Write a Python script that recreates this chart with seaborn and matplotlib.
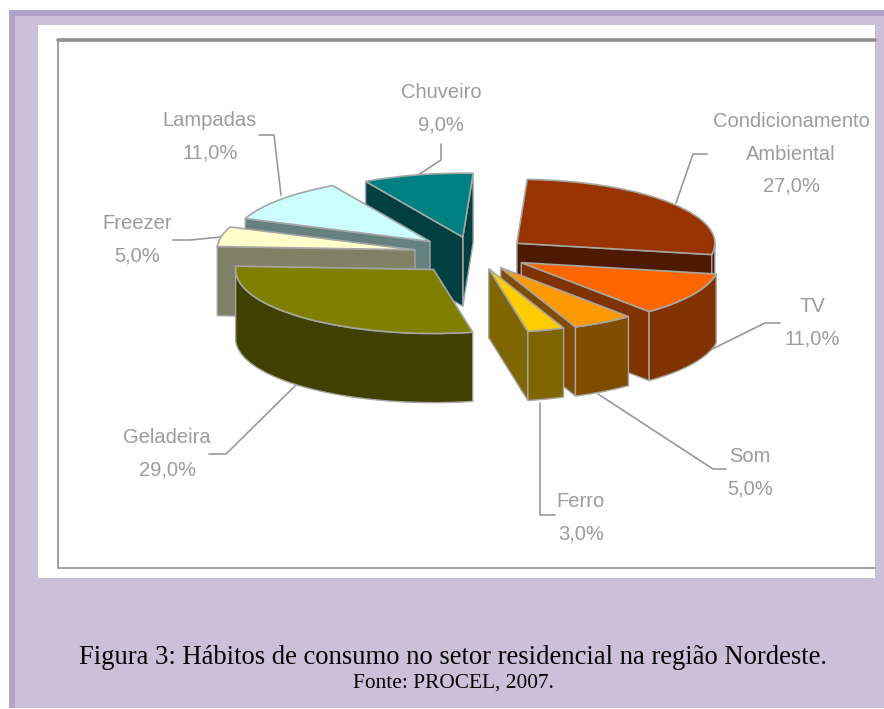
import numpy as np
import matplotlib
matplotlib.use("Agg")
import matplotlib.pyplot as plt
from matplotlib.patches import Rectangle, Polygon
import seaborn as sns

# dados do grafico
categorias = ["Condicionamento\nAmbiental", "TV", "Som", "Ferro", "Geladeira", "Freezer", "Lampadas", "Chuveiro"]
valores = [27.0, 11.0, 5.0, 3.0, 29.0, 5.0, 11.0, 9.0]
cores_topo = ["#993300", "#ff6600", "#ff9900", "#ffcc00", "#808000", "#ffffcc", "#ccffff", "#008080"]
cores_lado = ["#4d1a00", "#803300", "#804d00", "#806600", "#404000", "#808066", "#668080", "#004040"]
afastamento = [0.27, 0.27, 0.25, 0.24, 0.32, 0.31, 0.30, 0.27]
# ordem de desenho (de tras para frente)
ordem = [7, 6, 5, 4, 0, 1, 2, 3]

# posicao dos rotulos e linhas guia, em pixels da imagem
pos_rotulos = [(791, 154), (812, 323), (750, 473), (581, 518), (167, 454), (137, 240), (210, 137), (441, 109)]
guias = [
    [(676, 203), (693, 154), (707, 154)],
    [(690, 360), (765, 323), (780, 323)],
    [(598, 394), (713, 469), (726, 469)],
    [(540, 403), (540, 515), (555, 515)],
    [(298, 383), (226, 454), (209, 454)],
    [(221, 237), (190, 240), (173, 240)],
    [(281, 195), (274, 135), (259, 135)],
    [(415, 177), (441, 160), (441, 144)],
]

LARGURA, ALTURA = 884, 709
CENTRO_X, CENTRO_Y = 475, 254
RAIO_X, RAIO_Y = 198, 64
PROFUNDIDADE = 1.08
LILAS = "#cbbfd9"
LILAS_ESCURO = "#b3a2c8"
CINZA = "#a6a6a6"

sns.set_theme(style="white")
plt.rcParams["font.family"] = ["Liberation Sans", "DejaVu Sans"]
paleta = sns.color_palette(cores_topo)

fig = plt.figure(figsize=(LARGURA / 100, ALTURA / 100), dpi=100, facecolor="white")

# fundo, moldura e textos em coordenadas de pixel
ax_fundo = fig.add_axes([0, 0, 1, 1])
ax_fundo.set_xlim(0, LARGURA)
ax_fundo.set_ylim(ALTURA, 0)
ax_fundo.axis("off")
ax_fundo.add_patch(Rectangle((9, 10), LARGURA - 9, 698, color=LILAS, lw=0))
ax_fundo.add_patch(Rectangle((9, 10), LARGURA - 9, 6, color=LILAS_ESCURO, lw=0))
ax_fundo.add_patch(Rectangle((9, 10), 6, 698, color=LILAS_ESCURO, lw=0))
ax_fundo.add_patch(Rectangle((38, 25), 837, 553, color="white", lw=0))
ax_fundo.plot([875, 58, 58, 875], [40, 40, 568, 568], color="#a0a0a0", lw=1.4)
ax_fundo.plot([875, 58], [40, 40], color="#8f8f8f", lw=2.6)

for cat, val, pos, guia in zip(categorias, valores, pos_rotulos, guias):
    texto = f"{cat}\n{val:.1f}%".replace(".", ",")
    ax_fundo.text(pos[0], pos[1], texto, ha="center", va="center", fontsize=14.5,
                  color="#9c9c9c", linespacing=1.9)
    xs, ys = zip(*guia)
    ax_fundo.plot(xs, ys, color="#999999", lw=1.2)

ax_fundo.text(453, 657, "Figura 3: Hábitos de consumo no setor residencial na região Nordeste.",
              ha="center", va="center", fontsize=19.2, color="black", family="Liberation Serif")
ax_fundo.text(453, 683, "Fonte: PROCEL, 2007.", ha="center", va="center", fontsize=15.4,
              color="black", family="Liberation Serif")

# pizza: eixo inteiro da figura, achatado pela escala x/y
ax = fig.add_axes([0, 0, 1, 1], zorder=2)
ax.patch.set_alpha(0)
fatias, _ = ax.pie(valores, colors=paleta, startangle=87, counterclock=False,
                   explode=afastamento, radius=1,
                   wedgeprops={"edgecolor": CINZA, "linewidth": 1.2})
ax.set_aspect("auto")
ax.set_xlim(-CENTRO_X / RAIO_X, (LARGURA - CENTRO_X) / RAIO_X)
ax.set_ylim((CENTRO_Y - ALTURA) / RAIO_Y, CENTRO_Y / RAIO_Y)
ax.axis("off")


def ponto(fatia, ang):
    cx, cy = fatia.center
    return cx + fatia.r * np.cos(np.radians(ang)), cy + fatia.r * np.sin(np.radians(ang))


def desenha_lados(fatia, cor, z):
    cx, cy = fatia.center
    d = PROFUNDIDADE
    estilo = {"facecolor": cor, "edgecolor": CINZA, "linewidth": 1.0, "zorder": z}
    # faces radiais, so as que ficam viradas para a frente
    for ang, normal in ((fatia.theta1, fatia.theta1 - 90), (fatia.theta2, fatia.theta2 + 90)):
        if np.sin(np.radians(normal)) < 0:
            x, y = ponto(fatia, ang)
            ax.add_patch(Polygon([(cx, cy), (x, y), (x, y - d), (cx, cy - d)], **estilo))
    # borda externa, so a parte da frente
    angs = np.linspace(fatia.theta1, fatia.theta2, 120)
    angs = angs[np.sin(np.radians(angs)) <= 0]
    if len(angs) > 1:
        xs, ys = ponto(fatia, angs)
        borda = list(zip(xs, ys)) + list(zip(xs[::-1], ys[::-1] - d))
        ax.add_patch(Polygon(borda, **estilo))


for n, i in enumerate(ordem):
    desenha_lados(fatias[i], cores_lado[i], 10 + 2 * n)
    fatias[i].set_zorder(11 + 2 * n)

plt.savefig("out.png", dpi=100)
